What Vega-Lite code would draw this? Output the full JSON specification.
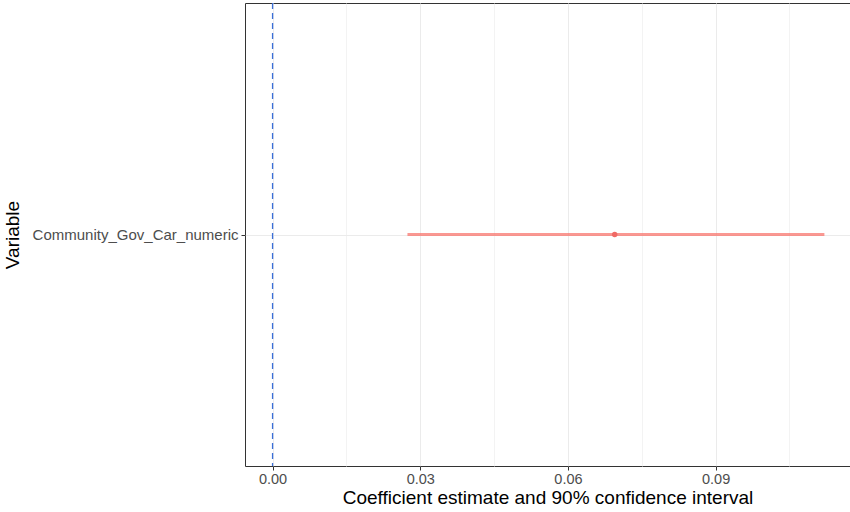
{
  "$schema": "https://vega.github.io/schema/vega-lite/v6.json",
  "width": 605,
  "height": 463,
  "autosize": {"type": "none"},
  "padding": {"left": 245, "top": 3, "right": 0, "bottom": 46},
  "config": {
    "font": "Liberation Sans",
    "view": {"stroke": "#333333", "strokeWidth": 1},
    "axis": {
      "domain": false,
      "gridColor": "#ebebeb",
      "gridWidth": 1,
      "tickColor": "#333333",
      "tickSize": 4,
      "labelColor": "#4d4d4d",
      "labelFontSize": 14.5,
      "labelPadding": 3,
      "labelLimit": 400,
      "titleColor": "#000000",
      "titleFontSize": 19,
      "titleFontWeight": "normal"
    }
  },
  "data": {
    "values": [
      {"variable": "Community_Gov_Car_numeric", "estimate": 0.0695, "lower": 0.0274, "upper": 0.1121}
    ]
  },
  "layer": [
    {
      "mark": {"type": "rule", "color": "#ffffff", "opacity": 0},
      "encoding": {
        "x": {
          "datum": 0,
          "type": "quantitative",
          "axis": {
            "orient": "top",
            "values": [0.015, 0.045, 0.075, 0.105],
            "grid": true,
            "gridColor": "#f0f0f0",
            "gridWidth": 0.8,
            "labels": false,
            "ticks": false,
            "domain": false,
            "title": null
          }
        }
      }
    },
    {
      "mark": {"type": "rule", "color": "#F8766D", "strokeWidth": 3, "opacity": 0.75},
      "encoding": {
        "y": {
          "field": "variable",
          "type": "nominal",
          "scale": {"type": "point", "padding": 0.5},
          "axis": {"title": "Variable", "grid": true, "titlePadding": 23, "labelFontSize": 15}
        },
        "x": {
          "field": "lower",
          "type": "quantitative",
          "scale": {"domain": [-0.0056, 0.1173], "nice": false, "zero": false},
          "axis": {
            "values": [0, 0.03, 0.06, 0.09],
            "format": ".2f",
            "grid": true,
            "labelPadding": 2,
            "title": "Coefficient estimate and 90% confidence interval",
            "titlePadding": 3
          }
        },
        "x2": {"field": "upper"}
      }
    },
    {
      "mark": {"type": "rule", "color": "#3a6fd8", "strokeWidth": 1.3, "strokeDash": [6, 4]},
      "encoding": {
        "x": {"datum": 0, "type": "quantitative", "axis": null}
      }
    },
    {
      "mark": {"type": "circle", "color": "#F06A66", "size": 30, "opacity": 1},
      "encoding": {
        "y": {"field": "variable", "type": "nominal", "axis": null},
        "x": {"field": "estimate", "type": "quantitative", "axis": null}
      }
    }
  ],
  "resolve": {"axis": {"x": "independent", "y": "independent"}}
}
